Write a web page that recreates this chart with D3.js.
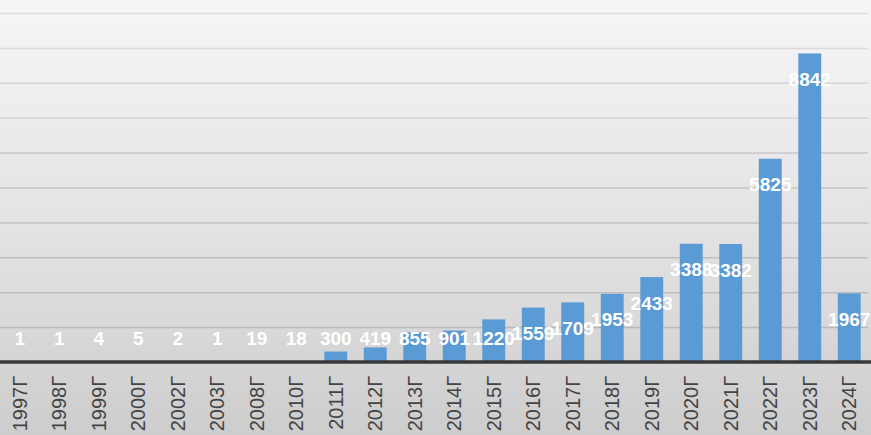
<!DOCTYPE html>
<html>
<head>
<meta charset="utf-8">
<script src="https://cdn.jsdelivr.net/npm/d3@7"></script>
<style>
  body { margin: 0; overflow: hidden; }
  svg { display: block; }
</style>
</head>
<body>
<div id="chart"></div>
<script>
var years = ['1997г', '1998г', '1999г', '2000г', '2002г', '2003г', '2008г', '2010г', '2011г', '2012г', '2013г',
             '2014г', '2015г', '2016г', '2017г', '2018г', '2019г', '2020г', '2021г', '2022г', '2023г', '2024г'];
var counts = [1, 1, 4, 5, 2, 1, 19, 18, 300, 419, 855, 901, 1220, 1559, 1709, 1953, 2433, 3388, 3382, 5825, 8842, 1967];
var gridTicks = [1000, 2000, 3000, 4000, 5000, 6000, 7000, 8000, 9000, 10000];

var width = 871, height = 435;
var baseY = 362, topY = 13;

var data = years.map(function(y, i) { return { year: y, value: counts[i] }; });

var svg = d3.select('#chart')
  .append('svg')
    .attr('width', width)
    .attr('height', height);

// BACKGROUND

var grad = svg.append('defs').append('linearGradient')
  .attr('id', 'bg')
  .attr('x1', 0).attr('y1', 0).attr('x2', 0).attr('y2', 1);
grad.append('stop').attr('offset', '0%').attr('stop-color', '#f6f6f6');
grad.append('stop').attr('offset', '55%').attr('stop-color', '#e2e2e2');
grad.append('stop').attr('offset', '100%').attr('stop-color', '#cdcdcd');

svg.append('rect')
  .attr('width', width)
  .attr('height', height)
  .attr('fill', 'url(#bg)');

// SCALES

var x = d3.scaleBand()
  .domain(years)
  .range([0, 869])
  .paddingInner(0.42)
  .paddingOuter(0.21);

var y = d3.scaleLinear()
  .domain([0, 10000])
  .range([baseY, topY]);

// GRID

svg.selectAll('line.grid')
  .data(gridTicks)
  .enter().append('line')
    .attr('class', 'grid')
    .attr('x1', 0)
    .attr('x2', 868)
    .attr('y1', function(d) { return y(d) + .5 })
    .attr('y2', function(d) { return y(d) + .5 })
    .attr('stroke', function(d) { return d > 6000 ? 'rgba(0,0,0,0.10)' : 'rgba(0,0,0,0.14)' })
    .attr('stroke-width', 1.5);

// BARS

svg.selectAll('rect.bar')
  .data(data)
  .enter().append('rect')
    .attr('class', 'bar')
    .attr('x', function(d) { return x(d.year) })
    .attr('width', x.bandwidth())
    .attr('y', function(d) { return y(d.value) })
    .attr('height', function(d) { return baseY - y(d.value) })
    .attr('fill', '#5b9bd5');

// AXIS LINE + LABELS

var xAxis = svg.append('g')
  .attr('transform', 'translate(0,' + baseY + ')')
  .call(d3.axisBottom(x).tickSize(0).tickSizeOuter(0).tickFormat(function(d) { return d.replace('г', 'Г') }));

xAxis.select('.domain')
  .attr('d', 'M0,0H' + width)
  .attr('stroke', '#383838')
  .attr('stroke-width', 3.5);

xAxis.selectAll('text')
  .attr('transform', 'rotate(-90)')
  .attr('text-anchor', 'end')
  .attr('x', -14)
  .attr('y', 0)
  .attr('dy', '0.36em')
  .attr('font-size', 20)
  .attr('font-family', 'Liberation Sans, Arial, sans-serif')
  .attr('fill', '#444');

// VALUE LABELS

svg.selectAll('text.value')
  .data(data)
  .enter().append('text')
    .attr('class', 'value')
    .text(function(d) { return d.value })
    .attr('x', function(d) { return x(d.year) + x.bandwidth() / 2 })
    .attr('y', function(d) { return Math.min(y(d.value) + 26, 338) })
    .attr('dy', '0.35em')
    .attr('text-anchor', 'middle')
    .attr('font-size', 19)
    .attr('font-weight', 'bold')
    .attr('font-family', 'Liberation Sans, Arial, sans-serif')
    .attr('fill', '#fff');
</script>
</body>
</html>
